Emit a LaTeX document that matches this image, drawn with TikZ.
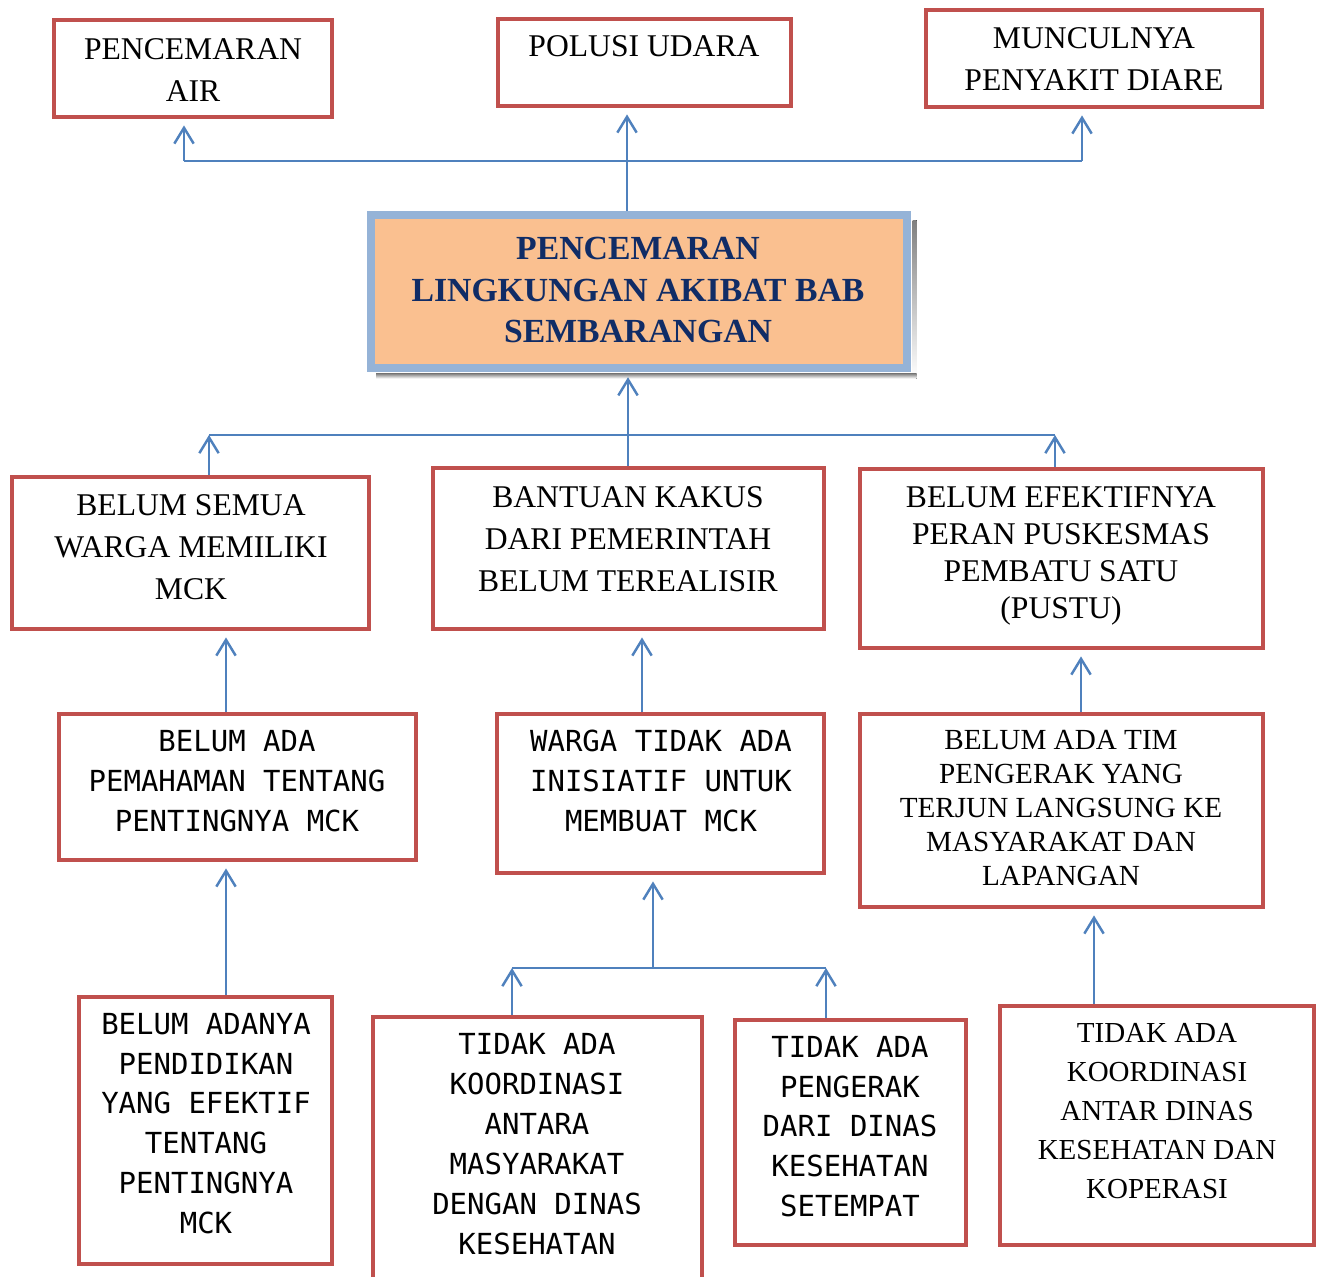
\documentclass[tikz,border=0pt]{standalone}
\usepackage{fontspec}
\usetikzlibrary{arrows.meta,fit}
\newfontfamily\serifrm{Liberation Serif}
\newfontfamily\monorm{DejaVu Sans Mono}
\definecolor{boxred}{HTML}{C0504D}
\definecolor{linkblue}{HTML}{4F81BD}
\definecolor{coreborder}{HTML}{95B3D7}
\definecolor{corefill}{HTML}{FAC090}
\definecolor{coretext}{HTML}{102C66}
\definecolor{shade}{HTML}{A0A0A0}
\tikzset{
  redbox/.style={draw=boxred, line width=2.6pt, inner sep=0pt, fill=white},
  serif18/.style={align=center, inner sep=0pt, font=\serifrm\fontsize{18}{23.8}\selectfont},
  serif17/.style={align=center, inner sep=0pt, font=\serifrm\fontsize{16.6}{19.3}\selectfont},
  monotext/.style={align=center, inner sep=0pt, font=\monorm\fontsize{16.5}{22.7}\selectfont},
  link/.style={draw=linkblue, line width=1.4pt},
  arr/.style={link, -{Straight Barb[length=9pt,width=11pt]}},
  arrbox/.style={arr, shorten >=3.5pt},
}
\begin{document}
\begin{tikzpicture}[x=0.02cm,y=-0.02cm]
\useasboundingbox (0,0) rectangle (1325,1276);
\clip (0,0) rectangle (1325,1276);
\fill[white] (0,0) rectangle (1325,1276);

% top row: consequences
\node[redbox, fit={(54,20) (332,117)}] (a1) {};
\node[redbox, fit={(498,19) (791,106)}] (a2) {};
\node[redbox, fit={(926,10) (1262,107)}] (a3) {};
\node[serif18] (a1t) at (193,70) {PENCEMARAN\\AIR};
\node[serif18] (a2t) at (644,46) {POLUSI UDARA};
\node[serif18] (a3t) at (1094,59) {MUNCULNYA\\PENYAKIT DIARE};

% core problem with its drop shadow along the right and bottom edges
\node[draw=coreborder, fill=corefill, line width=4.5pt, inner sep=0pt,
      fit={(371,215) (907,368)}] (c) {};
\fill[shade] (912.5,220) rectangle (916.5,378.5);
\fill[shade] (376,373.5) rectangle (916.5,378.5);
\node[align=center, inner sep=0pt, text=coretext,
      font=\serifrm\bfseries\fontsize{19.2}{23.8}\selectfont] (ct) at (638,290)
  {PENCEMARAN\\LINGKUNGAN AKIBAT BAB\\SEMBARANGAN};

% causes, first level
\node[redbox, fit={(12,477) (369,629)}] (b1) {};
\node[redbox, fit={(433,468) (824,629)}] (b2) {};
\node[redbox, fit={(860,469) (1263,648)}] (b3) {};
\node[serif18] (b1t) at (191,547) {BELUM SEMUA\\WARGA MEMILIKI\\MCK};
\node[serif18] (b2t) at (628,539) {BANTUAN KAKUS\\DARI PEMERINTAH\\BELUM TEREALISIR};
\node[serif18, font=\serifrm\fontsize{18}{21.2}\selectfont] (b3t) at (1061,556)
  {BELUM EFEKTIFNYA\\PERAN PUSKESMAS\\PEMBATU SATU\\(PUSTU)};

% causes, second level
\node[redbox, fit={(59,714) (416,860)}] (d1) {};
\node[redbox, fit={(497,714) (824,873)}] (d2) {};
\node[redbox, fit={(860,714) (1263,907)}] (d3) {};
\node[monotext] (d1t) at (237,781) {BELUM ADA\\PEMAHAMAN TENTANG\\PENTINGNYA MCK};
\node[monotext] (d2t) at (661,781) {WARGA TIDAK ADA\\INISIATIF UNTUK\\MEMBUAT MCK};
\node[serif17] (d3t) at (1061,808)
  {BELUM ADA TIM\\PENGERAK YANG\\TERJUN LANGSUNG KE\\MASYARAKAT DAN\\LAPANGAN};

% root causes
\node[redbox, fit={(79,997) (332,1264)}] (e1) {};
\node[redbox, fit={(373,1017) (702,1300)}] (e2) {};
\node[redbox, fit={(735,1020) (966,1245)}] (e3) {};
\node[redbox, fit={(1000,1006) (1314,1245)}] (e4) {};
\node[monotext] (e1t) at (206,1123.5)
  {BELUM ADANYA\\PENDIDIKAN\\YANG EFEKTIF\\TENTANG\\PENTINGNYA\\MCK};
\node[monotext] (e2t) at (537,1144)
  {TIDAK ADA\\KOORDINASI\\ANTARA\\MASYARAKAT\\DENGAN DINAS\\KESEHATAN};
\node[monotext] (e3t) at (850,1126.5)
  {TIDAK ADA\\PENGERAK\\DARI DINAS\\KESEHATAN\\SETEMPAT};
\node[serif17, font=\serifrm\fontsize{16.5}{22.1}\selectfont] (e4t) at (1157,1111)
  {TIDAK ADA\\KOORDINASI\\ANTAR DINAS\\KESEHATAN DAN\\KOPERASI};

% branch points
\coordinate (tl) at (184,161);
\coordinate (tr) at (1082,161);
\coordinate (tc) at (627,161);
\coordinate (ml) at (209,435);
\coordinate (mr) at (1055,435);
\coordinate (mc) at (628,435);
\coordinate (x1) at (226,0);
\coordinate (x2) at (642,0);
\coordinate (x3) at (1081,0);
\coordinate (bl) at (512,968);
\coordinate (br) at (826,968);
\coordinate (bc) at (653,968);
\coordinate (x4) at (1094,0);

% core problem to consequences
\draw[link] (tl) -- (tr);
\draw[arrbox] (tl) -- (tl |- a1.south);
\draw[arrbox] (tr) -- (tr |- a3.south);
\draw[arrbox] (tc |- c.north) -- (tc |- a2.south);

% first-level causes to core problem
\draw[link] (ml) -- (mr);
\draw[arr] (ml |- b1.north) -- (ml);
\draw[arr] (mr |- b3.north) -- (mr);
\draw[link, -{Straight Barb[length=9pt,width=11pt]}, shorten >=3pt] (mc |- b2.north) -- (mc |- c.south);

% second level to first level
\draw[arrbox] (x1 |- d1.north) -- (x1 |- b1.south);
\draw[arrbox] (x2 |- d2.north) -- (x2 |- b2.south);
\draw[arrbox] (x3 |- d3.north) -- (x3 |- b3.south);

% root causes to second level
\draw[arrbox] (x1 |- e1.north) -- (x1 |- d1.south);
\draw[link] (bl) -- (br);
\draw[arr] (bl |- e2.north) -- (bl);
\draw[arr] (br |- e3.north) -- (br);
\draw[arrbox] (bc) -- (bc |- d2.south);
\draw[arrbox] (x4 |- e4.north) -- (x4 |- d3.south);
\end{tikzpicture}
\end{document}
